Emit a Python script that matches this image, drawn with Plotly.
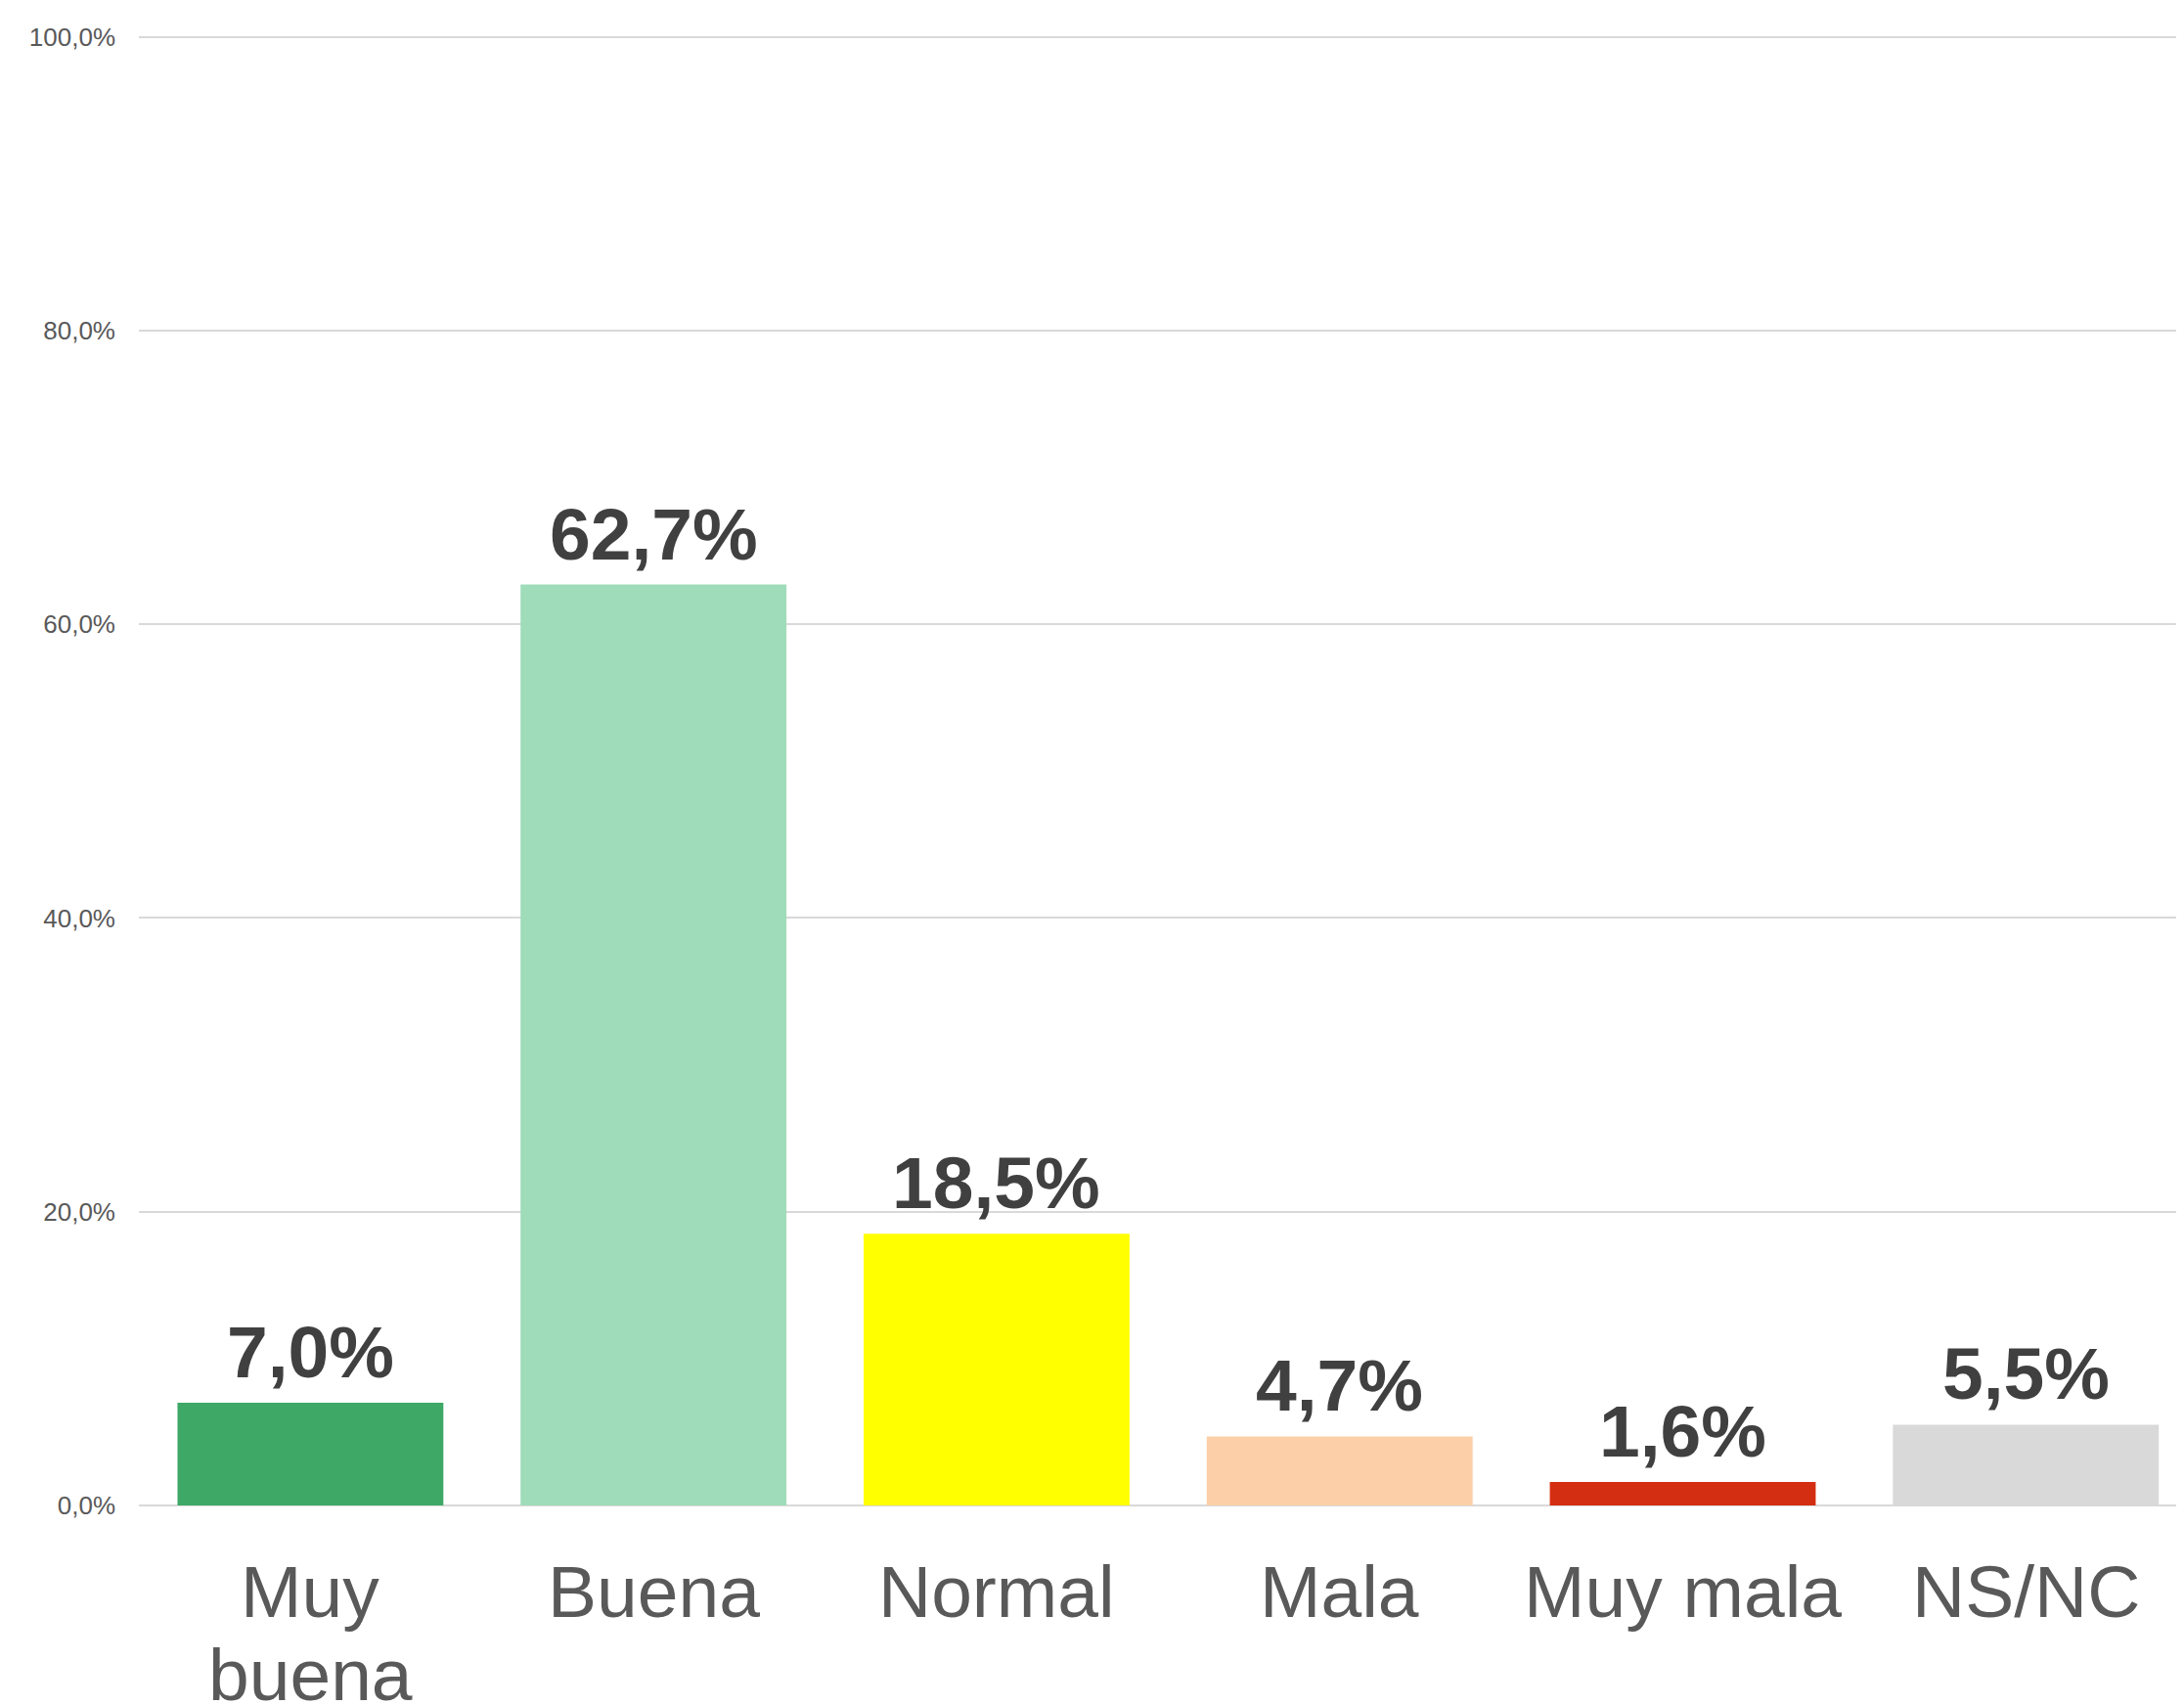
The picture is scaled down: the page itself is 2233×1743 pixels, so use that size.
import plotly.graph_objects as go

categories = ["Muy<br>buena", "Buena", "Normal", "Mala", "Muy mala", "NS/NC"]
values = [7.0, 62.7, 18.5, 4.7, 1.6, 5.5]
colors = ["#3EA866", "#9FDCB9", "#FFFF00", "#FCCFA8", "#D42E12", "#D9D9D9"]
y_ticks = [0, 20, 40, 60, 80, 100]
y_tick_labels = ["0,0%", "20,0%", "40,0%", "60,0%", "80,0%", "100,0%"]

FONT = "Liberation Sans, Arial, sans-serif"
BODY = 8  # default page body margin offset

fig = go.Figure(
    go.Bar(
        x=categories,
        y=values,
        marker=dict(color=colors, line=dict(width=0)),
        cliponaxis=False,
    )
)

annotations = []
# value labels above bars
for cat, v in zip(categories, values):
    annotations.append(dict(
        x=cat, xref="x", y=v, yref="y",
        text=f"{v:.1f}%".replace(".", ","), showarrow=False,
        xanchor="center", yanchor="bottom", yshift=8,
        font=dict(family=FONT, size=75, color="#404040", weight="bold"),
    ))
# category labels, drawn line by line for tighter line spacing
for cat in categories:
    for i, line in enumerate(cat.split("<br>")):
        annotations.append(dict(
            x=cat, xref="x", y=0, yref="paper",
            text=line, showarrow=False,
            xanchor="center", yanchor="top",
            yshift=-(44 + i * 85),
            font=dict(family=FONT, size=75, color="#595959"),
        ))

fig.update_layout(
    width=2233 - BODY,
    height=1743 - BODY,
    margin=dict(l=142 - BODY, r=0, t=36 - BODY, b=204, autoexpand=False),
    plot_bgcolor="white",
    paper_bgcolor="white",
    separators=",.",
    bargap=0.225,
    showlegend=False,
    font=dict(family=FONT),
    annotations=annotations,
)

fig.update_yaxes(
    range=[0, 100.1],
    tickvals=y_ticks,
    ticktext=y_tick_labels,
    showgrid=True,
    gridcolor="#D9D9D9",
    gridwidth=2,
    zeroline=True,
    zerolinecolor="#D9D9D9",
    zerolinewidth=2,
    tickfont=dict(family=FONT, size=26, color="#595959"),
    ticklabelstandoff=23,
    automargin=False,
)

fig.update_xaxes(
    range=[-0.5, 5.461],
    showticklabels=False,
    showline=False,
    showgrid=False,
    ticks="",
    automargin=False,
)

fig.write_html("out.html")
